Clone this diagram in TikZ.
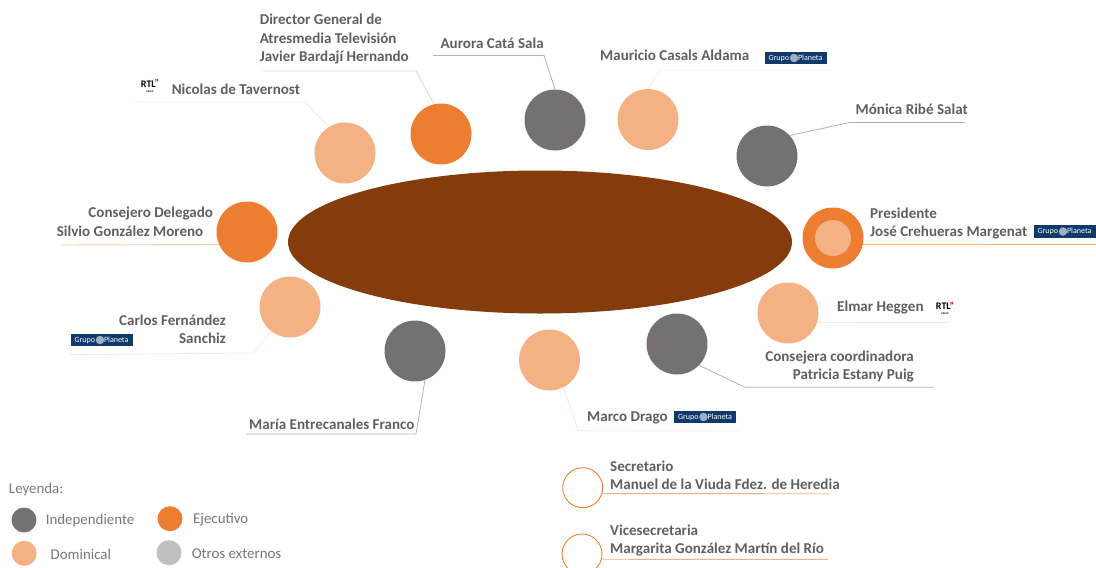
\documentclass[tikz,border=0pt]{standalone}
\usepackage{fontspec}
\usepackage{xcolor}
\usetikzlibrary{shapes.geometric}
\setmainfont{Carlito}
\definecolor{mesa}{HTML}{843C0C}
\definecolor{naranja}{HTML}{ED7D31}
\definecolor{salmon}{HTML}{F4B183}
\definecolor{gris}{HTML}{767171}
\definecolor{grisclaro}{HTML}{BFBFBF}
\definecolor{texto}{HTML}{5F5F5F}
\definecolor{azul}{HTML}{0F3A6B}
\tikzset{
    seat/.style={circle, minimum size=61pt, inner sep=0pt},
    mini/.style={circle, minimum size=25pt, inner sep=0pt},
    nametext/.style={inner sep=0pt, text=texto, font=\fontsize{15.05}{18.4}\selectfont\bfseries},
    keytext/.style={inner sep=0pt, text=texto!85, font=\fontsize{14.9}{16}\selectfont},
    leadgrey/.style={draw=gray!60, line width=0.8pt},
    leadsoft/.style={draw=salmon!30, line width=0.9pt},
    leadpale/.style={draw=gray!28, line width=0.9pt},
    leadorange/.style={draw=salmon, line width=0.9pt}
}
% logos of the shareholder groups
\newcommand{\planetalogo}[3]{
    \node[fill=azul, text=white, minimum width=62pt, minimum height=12.5pt, inner sep=0pt,
          font=\fontsize{8}{8}\selectfont] (#1) at (#2,#3) {Grupo\hspace{9pt}Planeta};
    \node[circle, fill=white!60!azul, minimum size=8.5pt, inner sep=0pt] (#1globe) at (#2-1.5,#3) {};
}
\newcommand{\rtllogo}[3]{
    \node[inner sep=0pt, align=center, font=\fontsize{10}{5}\selectfont\bfseries] (#1) at (#2,#3)
        {RTL\hspace{-1pt}\textcolor{red}{\raisebox{0.5pt}{”}}\\[0pt]{\fontsize{2.5}{3}\selectfont GROUP}};
}

\begin{document}
\begin{tikzpicture}[x=1pt, y=-1pt]
\useasboundingbox (0,0) rectangle (1096,568);
\clip (0,0) rectangle (1096,568);

% Table
\node[ellipse, fill=mesa, minimum width=504pt, minimum height=143pt, inner sep=0pt] (mesa) at (540,242) {};

% Seats
\node[seat, fill=salmon] (tavernost) at (345,153) {};
\node[seat, fill=naranja] (bardaji) at (441,134) {};
\node[seat, fill=gris] (cata) at (555,120) {};
\node[seat, fill=salmon] (casals) at (648,119.5) {};
\node[seat, fill=gris] (ribe) at (767,156) {};
\node[seat, fill=naranja] (crehueras) at (833,238) {};
\node[circle, fill=salmon, minimum size=36pt, inner sep=0pt] (crehuerasin) at (833,238) {};
\node[seat, fill=salmon] (heggen) at (788,313) {};
\node[seat, fill=gris] (estany) at (677,344) {};
\node[seat, fill=salmon] (drago) at (549.5,360) {};
\node[seat, fill=gris] (entrecanales) at (415,351) {};
\node[seat, fill=salmon] (fernandez) at (290,307) {};
\node[seat, fill=naranja] (gonzalez) at (247,232) {};
\node[circle, draw=naranja, line width=0.9pt, minimum size=40pt, inner sep=0pt] (viuda) at (582.7,487.7) {};
\node[circle, draw=naranja, line width=0.9pt, minimum size=40pt, inner sep=0pt] (martin) at (582,554) {};

% Free ends of the leaders
\coordinate (tavernostA) at (305,102);
\coordinate (tavernostB) at (133,102);
\coordinate (bardajiA) at (416,71);
\coordinate (bardajiB) at (263,71);
\coordinate (cataA) at (544,55.5);
\coordinate (cataB) at (433,55.5);
\coordinate (casalsA) at (660,70);
\coordinate (casalsB) at (830,70);
\coordinate (ribeA) at (849.5,122.5);
\coordinate (ribeB) at (965,122.5);
\coordinate (crehuerasB) at (1096,244.5);
\coordinate (heggenB) at (951,322.7);
\coordinate (estanyA) at (745,387.3);
\coordinate (estanyB) at (934,387.3);
\coordinate (dragoA) at (578,430.7);
\coordinate (dragoB) at (741.5,431);
\coordinate (entrecanalesA) at (416,434);
\coordinate (entrecanalesB) at (246,434);
\coordinate (fernandezA) at (253.3,353);
\coordinate (fernandezB) at (69.5,354.7);
\coordinate (gonzalezB) at (61,245);
\coordinate (viudaB) at (829,493.7);
\coordinate (martinB) at (828,559.3);

% Leaders
\draw[leadsoft] (tavernost.122) -- (tavernostA) -- (tavernostB);
\draw[leadpale] (bardaji.103) -- (bardajiA) -- (bardajiB);
\draw[leadgrey] (cata.north) -- (cataA) -- (cataB);
\draw[leadsoft] (casals.north) -- (casalsA) -- (casalsB);
\draw[leadgrey] (ribe.42) -- (ribeA) -- (ribeB);
\draw[leadorange] (crehueras.-12) -- (crehuerasB);
\draw[leadsoft] (heggen.-18) -- (heggenB);
\draw[leadgrey] (estany.-44) -- (estanyA) -- (estanyB);
\draw[leadsoft] (drago.-63) -- (dragoA) -- (dragoB);
\draw[leadgrey] (entrecanales.-71) -- (entrecanalesA) -- (entrecanalesB);
\draw[leadsoft] (fernandez.232) -- (fernandezA) -- (fernandezB);
\draw[draw=salmon!70, line width=0.9pt] (gonzalez.204) -- (gonzalezB);
\draw[leadorange] (viuda.-17) -- (viudaB);
\draw[leadorange] (martin.-15) -- (martinB);

% Names
\node[nametext, anchor=west, align=left] (bardajitext) at (259.6,39) {Director General de\\Atresmedia Televisión\\Javier Bardají Hernando};
\node[nametext, anchor=west] (catatext) at (440.4,43.3) {Aurora Catá Sala};
\node[nametext, anchor=west] (tavernosttext) at (171.6,89) {Nicolas de Tavernost};
\node[nametext, anchor=west] (casalstext) at (600,55) {Mauricio Casals Aldama};
\node[nametext, anchor=west] (ribetext) at (855.5,109) {Mónica Ribé Salat};
\node[nametext, anchor=west, align=left] (crehuerastext) at (870,223.2) {Presidente\\José Crehueras Margenat};
\node[nametext, anchor=west] (heggentext) at (837,307.8) {Elmar Heggen};
\node[nametext, anchor=east, align=right] (estanytext) at (914,366.5) {Consejera coordinadora\\Patricia Estany Puig};
\node[nametext, anchor=west] (dragotext) at (587,417.5) {Marco Drago};
\node[nametext, anchor=west] (entrecanalestext) at (249,423.8) {María Entrecanales Franco};
\node[nametext, anchor=east, align=right] (fernandeztext) at (226,329) {Carlos Fernández\\Sanchiz};
\node[nametext, anchor=east] (gonzalezcargo) at (213.3,213) {Consejero Delegado};
\node[nametext, anchor=east] (gonzaleztext) at (203.5,231.3) {Silvio González Moreno};
\node[nametext, anchor=west, align=left] (viudatext) at (610,475) {Secretario\\Manuel de la Viuda Fdez. de Heredia};
\node[nametext, anchor=west, align=left] (martintext) at (610,540.3) {Vicesecretaria\\Margarita González Martín del Río};

% Logos
\planetalogo{planetaA}{795.5}{58}
\planetalogo{planetaB}{1064.5}{231.5}
\planetalogo{planetaC}{101.5}{340}
\planetalogo{planetaD}{705}{417}
\rtllogo{rtlA}{150}{86}
\rtllogo{rtlB}{945}{308.5}

% Legend
\node[keytext, anchor=west] (leyenda) at (8.8,490) {Leyenda:};
\node[mini, fill=gris] (keyind) at (24,520) {};
\node[keytext, anchor=west] (keyindtext) at (45.6,520.5) {Independiente};
\node[mini, fill=salmon] (keydom) at (24.2,553.3) {};
\node[keytext, anchor=west] (keydomtext) at (50.5,554.3) {Dominical};
\node[mini, fill=naranja] (keyeje) at (170,518.7) {};
\node[keytext, anchor=west] (keyejetext) at (193,519.5) {Ejecutivo};
\node[mini, fill=grisclaro] (keyotr) at (169,552.7) {};
\node[keytext, anchor=west] (keyotrtext) at (191.6,553.3) {Otros externos};
\end{tikzpicture}
\end{document}
